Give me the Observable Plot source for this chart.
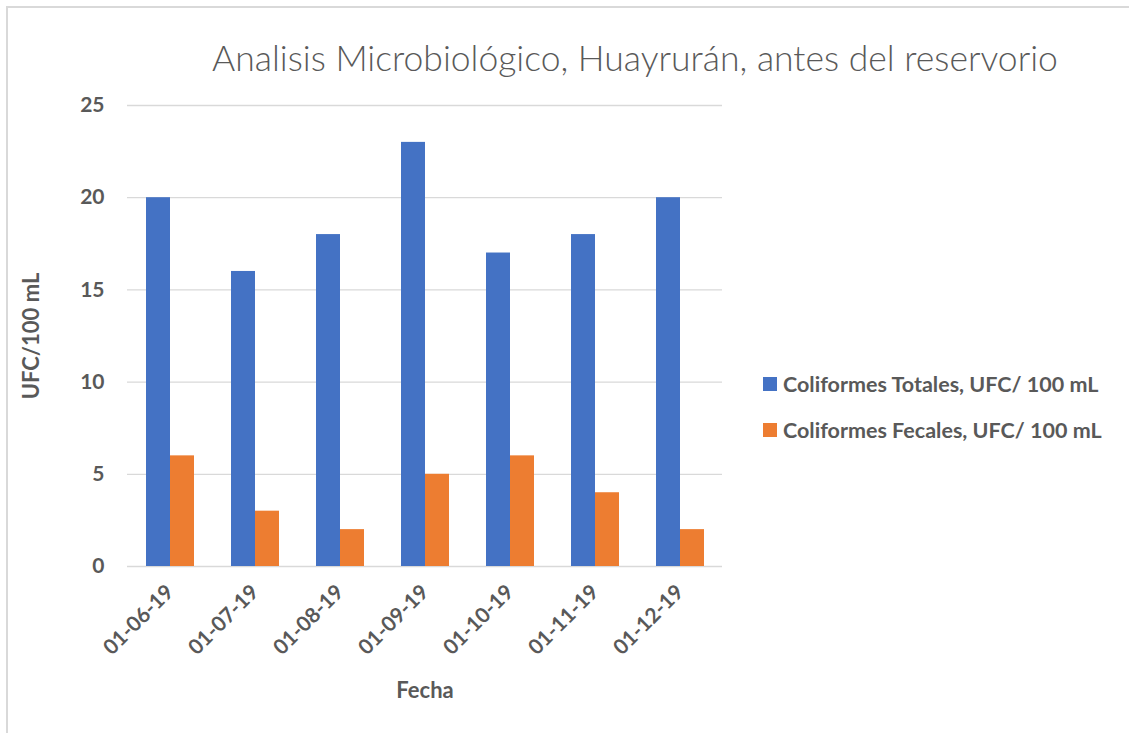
<!DOCTYPE html>
<html><head><meta charset="utf-8">
<script src="https://cdn.jsdelivr.net/npm/d3@7"></script>
<script src="https://cdn.jsdelivr.net/npm/@observablehq/plot@0.6"></script>
<style>
body{margin:0;background:#fff;}
#wrap{position:relative;width:1129px;height:733px;overflow:hidden;font-family:Lato,"Open Sans",sans-serif;color:#595959;}
#frame{position:absolute;left:6px;top:6px;width:1160px;height:760px;border:2px solid #d9d9d9;box-sizing:border-box;}
#chart{position:absolute;left:0;top:0;}
#title{position:absolute;left:135px;top:40px;width:1000px;text-align:center;font-size:35.5px;font-weight:300;line-height:1;white-space:nowrap;}
#legend{position:absolute;left:763px;top:370px;font-size:21.5px;font-weight:bold;}
.item{display:flex;align-items:center;height:28px;margin-bottom:18px;white-space:nowrap;}
.sw{width:14px;height:14px;margin-right:6px;flex:none;}
#chart svg text{font-weight:bold;}
#chart g[aria-label="y-axis label"] text,#chart g[aria-label="fx-axis label"] text{font-size:22px;}
</style></head>
<body><div id="wrap"><div id="frame"></div><div id="chart"></div>
<div id="title">Analisis Microbiológico, Huayrurán, antes del reservorio</div>
<div id="legend"></div></div>
<script>
const fechas = ["01-06-19","01-07-19","01-08-19","01-09-19","01-10-19","01-11-19","01-12-19"];
const totales = [20,16,18,23,17,18,20];
const fecales = [6,3,2,5,6,4,2];
const series = ["Coliformes Totales, UFC/ 100 mL","Coliformes Fecales, UFC/ 100 mL"];
const colores = ["#4472C4","#ED7D31"];
const yTicks = [0,5,10,15,20,25];

const rows = [];
fechas.forEach((f,i)=>{
  rows.push({fecha:f, serie:series[0], valor:totales[i]});
  rows.push({fecha:f, serie:series[1], valor:fecales[i]});
});

const plot = Plot.plot({
  width:1129, height:733,
  marginLeft:127, marginRight:407, marginTop:105, marginBottom:167,
  style:{fontFamily:"Lato, 'Open Sans', sans-serif", fontSize:"21px", color:"#595959", background:"transparent"},
  fx:{domain:fechas, padding:0, label:null},
  x:{domain:series, paddingInner:0, paddingOuter:0.77, axis:null},
  y:{domain:[0,25], ticks:yTicks},
  color:{domain:series, range:colores},
  marks:[
    Plot.gridY(yTicks,{stroke:"#d9d9d9", strokeOpacity:1, strokeWidth:1.3}),
    Plot.barY(rows,{fx:"fecha", x:"serie", y:"valor", fill:"serie"}),
    Plot.axisY(yTicks,{tickSize:0, tickPadding:23, label:"UFC/100 mL", labelArrow:"none", labelAnchor:"center", labelOffset:104, fill:"#595959"}),
    Plot.axisFx({anchor:"bottom", tickRotate:-45, tickSize:0, tickPadding:22, label:"Fecha", labelArrow:"none", labelAnchor:"center", labelOffset:131, fill:"#595959"})
  ]
});
document.getElementById("chart").appendChild(plot);

const leg = document.getElementById("legend");
series.forEach((s,i)=>{
  const it = document.createElement("div"); it.className="item";
  const sw = document.createElement("div"); sw.className="sw"; sw.style.background=colores[i];
  const t = document.createElement("span"); t.textContent=s;
  it.appendChild(sw); it.appendChild(t); leg.appendChild(it);
});
</script></body></html>
